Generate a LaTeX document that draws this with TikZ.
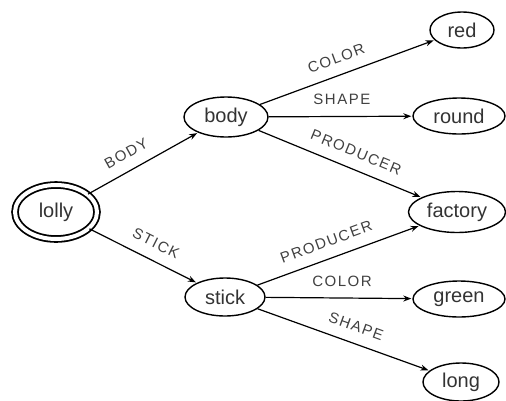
\documentclass[tikz,border=0pt]{standalone}
\usepackage{fontspec}
\setmainfont{Liberation Sans}
\newfontfamily\relfont[LetterSpace=10]{Liberation Sans}
\usetikzlibrary{shapes.geometric, arrows.meta}

\begin{document}
\begin{tikzpicture}[x=1pt, y=-1pt, >={Stealth[length=8pt, width=6pt]},
            obj/.style={draw, ellipse, line width=1.4pt, inner sep=0pt, text=black!80,
                font=\fontsize{20}{20}\selectfont},
            rel/.style={sloped, above=11pt, inner sep=0pt, text=black!75,
                font=\relfont\fontsize{15}{15}\selectfont}]
            \useasboundingbox (0,0) rectangle (506,400);

            \node[obj, double, double distance=4pt, line width=1.8pt,
                minimum width=82pt, minimum height=54pt] (lolly) at (56,212) {lolly};
            \node[obj, minimum width=84pt, minimum height=40pt] (body) at (226,117) {body};
            \node[obj, minimum width=80pt, minimum height=38pt] (stick) at (225,297) {stick};
            \node[obj, minimum width=64pt, minimum height=36pt] (red) at (462,30) {red};
            \node[obj, minimum width=92pt, minimum height=36pt] (round) at (459,116) {round};
            \node[obj, minimum width=97pt, minimum height=41pt] (factory) at (457,212) {factory};
            \node[obj, minimum width=92pt, minimum height=36pt] (green) at (459,299) {green};
            \node[obj, minimum width=76pt, minimum height=38pt] (long) at (461,382) {long};

            \path[->, line width=1.2pt, shorten >=1pt]
            (lolly) edge node[rel, pos=.42] {BODY} (body)
            (lolly) edge node[rel, pos=.55] {STICK} (stick)
            (body) edge node[rel, pos=.47] {COLOR} (red)
            (body) edge node[rel, pos=.51] {SHAPE} (round)
            (body) edge node[rel, pos=.56] {PRODUCER} (factory)
            (stick) edge node[rel, pos=.46] {PRODUCER} (factory)
            (stick) edge node[rel, pos=.52] {COLOR} (green)
            (stick) edge node[rel, pos=.54] {SHAPE} (long)

            ;
        \end{tikzpicture}
\end{document}
